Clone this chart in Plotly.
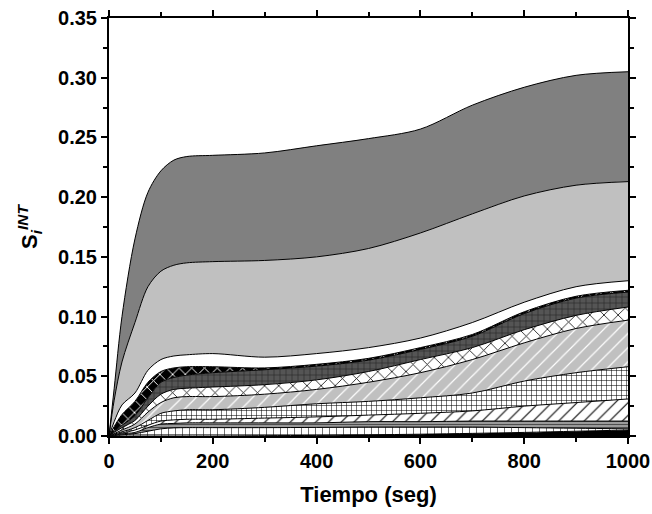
import plotly.graph_objects as go

# Time (s)
tiempo = [0, 10, 25, 50, 75, 100, 125, 150, 200, 300, 400, 500, 600, 700, 800, 900, 1000]

# Cumulative (stacked) boundaries, bottom to top
b_black   = [0, 0, 0, 0, 0, 0, 0, 0, 0, 0.0003, 0.0005, 0.001, 0.0015, 0.0022, 0.003, 0.004, 0.005]
b_wgrid   = [0, 0.0004, 0.001, 0.002, 0.004, 0.006, 0.0068, 0.007, 0.007, 0.007, 0.0072, 0.0075, 0.0075, 0.0075, 0.007, 0.0065, 0.006]
b_gray    = [0, 0.0007, 0.0018, 0.003, 0.007, 0.010, 0.0105, 0.011, 0.011, 0.011, 0.011, 0.012, 0.012, 0.0125, 0.0125, 0.0125, 0.0125]
b_diag    = [0, 0.001, 0.0025, 0.005, 0.009, 0.0125, 0.0135, 0.014, 0.014, 0.015, 0.016, 0.0175, 0.019, 0.021, 0.025, 0.028, 0.031]
b_grid    = [0, 0.0015, 0.0035, 0.007, 0.013, 0.019, 0.021, 0.022, 0.022, 0.024, 0.027, 0.029, 0.032, 0.036, 0.046, 0.053, 0.058]
b_lgdiag  = [0, 0.002, 0.005, 0.010, 0.020, 0.028, 0.032, 0.033, 0.033, 0.035, 0.039, 0.045, 0.053, 0.064, 0.078, 0.090, 0.097]
b_wx      = [0, 0.003, 0.007, 0.013, 0.025, 0.035, 0.039, 0.040, 0.041, 0.043, 0.047, 0.054, 0.064, 0.074, 0.089, 0.101, 0.108]
b_dgrid   = [0, 0.004, 0.009, 0.017, 0.032, 0.045, 0.049, 0.051, 0.053, 0.0555, 0.0585, 0.0635, 0.0725, 0.0835, 0.1025, 0.1155, 0.1205]
b_bx      = [0, 0.008, 0.018, 0.029, 0.045, 0.054, 0.057, 0.058, 0.058, 0.057, 0.060, 0.065, 0.074, 0.085, 0.104, 0.117, 0.122]
b_white   = [0, 0.012, 0.026, 0.036, 0.055, 0.064, 0.067, 0.068, 0.069, 0.066, 0.069, 0.074, 0.082, 0.095, 0.112, 0.125, 0.130]
b_lgray   = [0, 0.030, 0.062, 0.095, 0.125, 0.138, 0.143, 0.145, 0.146, 0.147, 0.150, 0.157, 0.170, 0.186, 0.201, 0.210, 0.213]
b_dgray   = [0, 0.040, 0.100, 0.165, 0.204, 0.222, 0.231, 0.234, 0.235, 0.237, 0.243, 0.249, 0.257, 0.277, 0.292, 0.302, 0.305]

x_ticks = [0, 200, 400, 600, 800, 1000]
y_ticks = [0.00, 0.05, 0.10, 0.15, 0.20, 0.25, 0.30, 0.35]

layers = [
    (b_black,  dict(fillcolor="black")),
    (b_wgrid,  dict(fillpattern=dict(shape="+", bgcolor="white", fgcolor="black", size=7, solidity=0.15, fillmode="replace"))),
    (b_gray,   dict(fillpattern=dict(shape="-", bgcolor="#9a9a9a", fgcolor="#444444", size=3, solidity=0.3, fillmode="replace"))),
    (b_diag,   dict(fillpattern=dict(shape="/", bgcolor="white", fgcolor="black", size=9, solidity=0.12, fillmode="replace"))),
    (b_grid,   dict(fillpattern=dict(shape="+", bgcolor="white", fgcolor="black", size=5, solidity=0.2, fillmode="replace"))),
    (b_lgdiag, dict(fillpattern=dict(shape="/", bgcolor="#c0c0c0", fgcolor="white", size=10, solidity=0.12, fillmode="replace"))),
    (b_wx,     dict(fillpattern=dict(shape="x", bgcolor="white", fgcolor="black", size=10, solidity=0.15, fillmode="replace"))),
    (b_dgrid,  dict(fillpattern=dict(shape="+", bgcolor="#555555", fgcolor="#1a1a1a", size=6, solidity=0.15, fillmode="replace"))),
    (b_bx,     dict(fillpattern=dict(shape="x", bgcolor="black", fgcolor="white", size=9, solidity=0.2, fillmode="replace"))),
    (b_white,  dict(fillcolor="white")),
    (b_lgray,  dict(fillcolor="#c0c0c0")),
    (b_dgray,  dict(fillcolor="#808080")),
]

fig = go.Figure()
for i, (ys, fill) in enumerate(layers):
    fig.add_trace(go.Scatter(
        x=tiempo, y=ys, mode="lines",
        line=dict(color="black", width=1, shape="spline", smoothing=0.9),
        fill="tozeroy" if i == 0 else "tonexty",
        hoverinfo="skip", showlegend=False, **fill))

font_b = dict(family="Liberation Sans, Arial, sans-serif", size=20, color="black", weight="bold")

fig.update_layout(
    width=652, height=514,
    margin=dict(l=109, r=24, t=18, b=78, autoexpand=False),
    paper_bgcolor="white", plot_bgcolor="white",
    font=font_b,
    xaxis=dict(range=[0, 1000], tickvals=x_ticks, ticktext=[str(v) for v in x_ticks],
               automargin=False, ticklabeloverflow="allow",
               ticks="outside", ticklen=6, tickwidth=2, tickcolor="black",
               minor=dict(dtick=100, ticks="outside", ticklen=4, tickwidth=1.5, tickcolor="black"),
               showline=True, linewidth=2, linecolor="black", mirror="ticks",
               showgrid=False, zeroline=False, tickfont=font_b,
               title=dict(text="Tiempo (seg)", font=dict(font_b, size=22), standoff=16)),
    yaxis=dict(range=[0, 0.35], tickvals=y_ticks, ticktext=[f"{v:.2f}" for v in y_ticks],
               automargin=False, ticklabeloverflow="allow",
               ticks="outside", ticklen=6, tickwidth=2, tickcolor="black",
               minor=dict(dtick=0.025, ticks="outside", ticklen=4, tickwidth=1.5, tickcolor="black"),
               showline=True, linewidth=2, linecolor="black", mirror="ticks",
               showgrid=False, zeroline=False, tickfont=font_b,
               title=dict(text="S<sub><i>i</i></sub><sup><i>INT</i></sup>", font=dict(font_b, size=22), standoff=14)),
)

fig.write_html("out.html", config={"displayModeBar": False},
               post_script="document.body.style.margin='0';document.body.style.overflow='hidden';")
